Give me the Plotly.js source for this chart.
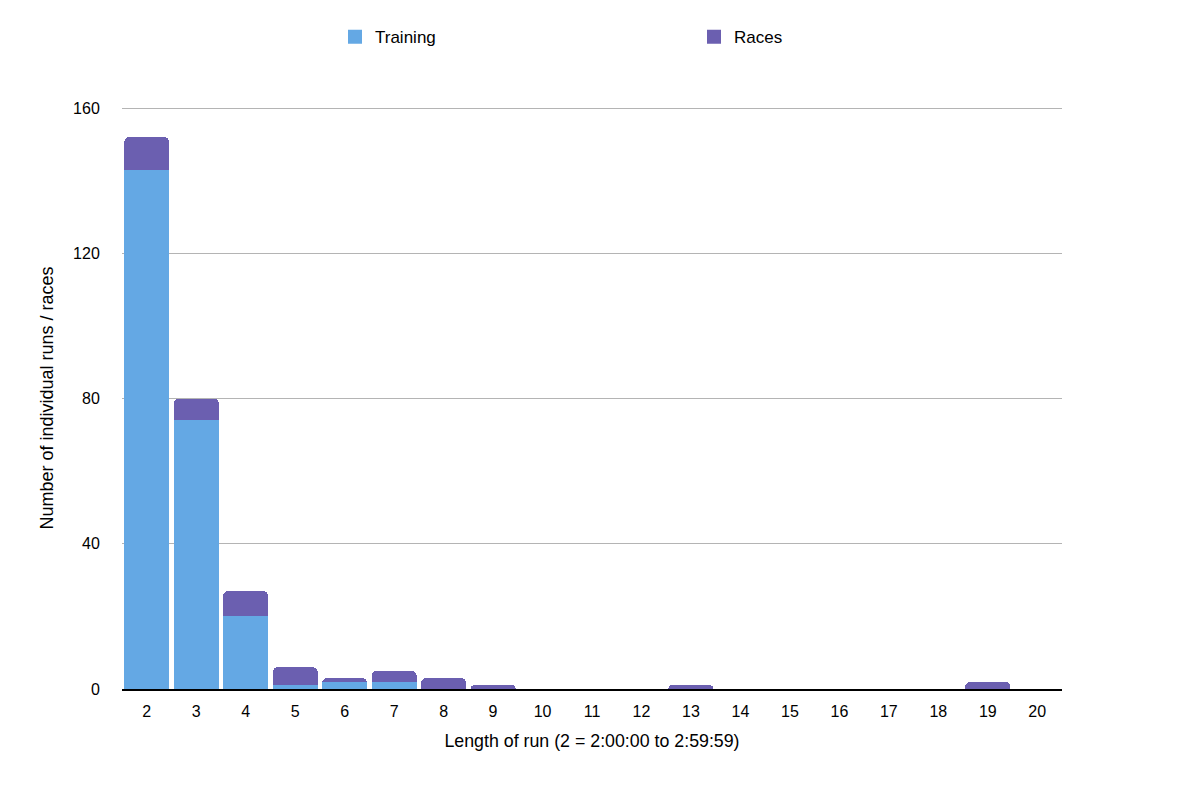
<!DOCTYPE html>
<html>
<head>
<meta charset="utf-8">
<script src="https://cdn.plot.ly/plotly-3.0.1.min.js"></script>
<style>html,body{margin:0;padding:0;background:#fff;}#chart{width:1200px;height:805px;}</style>
</head>
<body>
<div id="chart"></div>
<script>
const categories = ["2","3","4","5","6","7","8","9","10","11","12","13","14","15","16","17","18","19","20"];
const training = [143, 74, 20, 1, 2, 2, 0, 0, 0, 0, 0, 0, 0, 0, 0, 0, 0, 0, 0];
const races    = [9, 6, 7, 5, 1, 3, 3, 1, 0, 0, 0, 1, 0, 0, 0, 0, 0, 2, 0];
const yTicks = [0, 40, 80, 120, 160];
const seriesNames = ['Training', 'Races'];
const seriesColors = ['#64a8e4', '#6b5fb0'];

const font = "Liberation Sans, Arial, Helvetica, sans-serif";
const data = [
  {type:'bar', name:seriesNames[0], x:categories, y:training, marker:{color:seriesColors[0]}, showlegend:false},
  {type:'bar', name:seriesNames[1], x:categories, y:races, marker:{color:seriesColors[1]}, showlegend:false}
];
// legend-only entries with sharp square swatches
seriesNames.forEach((n, i) => {
  data.push({type:'scatter', mode:'markers', name:n, x:[null], y:[null],
    marker:{symbol:'square', size:14, color:seriesColors[i]}, showlegend:true, hoverinfo:'skip'});
});

const layout = {
  width:1200, height:805,
  margin:{l:122, r:138, t:107, b:116},
  paper_bgcolor:'#fff', plot_bgcolor:'#fff',
  barmode:'stack', bargap:0.09, barcornerradius:5,
  font:{family:font, size:16, color:'#000'},
  showlegend:true,
  legend:{orientation:'h', x:(335-122)/940, xanchor:'left', y:1.12, yanchor:'middle',
    entrywidth:314, entrywidthmode:'pixels', font:{size:17, family:font}, traceorder:'normal'},
  xaxis:{type:'category', range:[-0.5,18.5], showgrid:false, zeroline:false,
    showline:true, linecolor:'#000', linewidth:1.5,
    ticks:'outside', ticklen:7, tickcolor:'rgba(0,0,0,0)',
    tickfont:{size:16, family:font},
    title:{text:'Length of run (2 = 2:00:00 to 2:59:59)', font:{size:17.8, family:font}, standoff:16}},
  yaxis:{range:[0,160.3], tickvals:yTicks, ticktext:yTicks.map(String),
    showgrid:true, gridcolor:'#b4b4b4', gridwidth:1, zeroline:false, showline:false,
    ticks:'outside', ticklen:18, tickcolor:'rgba(0,0,0,0)',
    tickfont:{size:16, family:font},
    title:{text:'Number of individual runs / races', font:{size:18, family:font}, standoff:14}}
};
Plotly.newPlot('chart', data, layout, {displayModeBar:false, staticPlot:true});
</script>
</body>
</html>
